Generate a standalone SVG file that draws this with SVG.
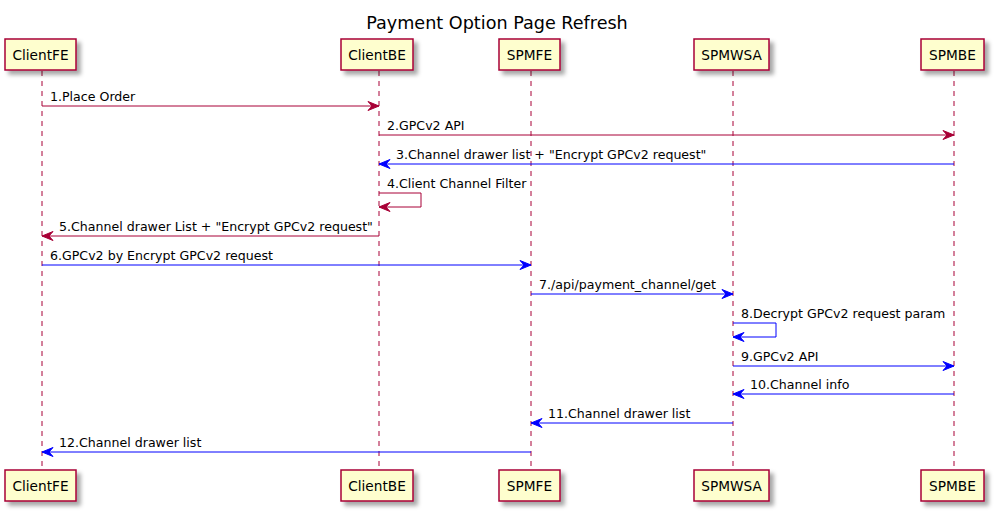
<svg xmlns="http://www.w3.org/2000/svg" width="997" height="513" viewBox="0 0 997 513">
<defs>
<filter id="sh" x="-20%" y="-20%" width="150%" height="160%">
<feDropShadow dx="4" dy="4" stdDeviation="2" flood-color="#000" flood-opacity="0.35"/>
</filter>
<marker id="ar" viewBox="-1 -1 13 11" refX="11" refY="4.5" markerWidth="13" markerHeight="11" markerUnits="userSpaceOnUse" orient="auto"><polygon points="0,0 11,4.5 0,9 4,4.5" fill="#A80036" stroke="#A80036" stroke-width="1"/></marker>
<marker id="ab" viewBox="-1 -1 13 11" refX="11" refY="4.5" markerWidth="13" markerHeight="11" markerUnits="userSpaceOnUse" orient="auto"><polygon points="0,0 11,4.5 0,9 4,4.5" fill="#0000FF" stroke="#0000FF" stroke-width="1"/></marker>
</defs>
<style>
text{font-family:"DejaVu Sans",Verdana,sans-serif;fill:#000}
.t{font-size:17.6px}
.p{font-size:13.7px;text-anchor:middle}
.m{font-size:12.6px}
.box{fill:#FEFECE;stroke:#A80036;stroke-width:1.5;filter:url(#sh)}
.life{stroke:#A80036;stroke-width:1;stroke-dasharray:5,5;fill:none}
.r{stroke:#A80036;stroke-width:1;fill:none;marker-end:url(#ar)}
.b{stroke:#0000FF;stroke-width:1;fill:none;marker-end:url(#ab)}
</style>
<text class="t" x="497" y="29" text-anchor="middle">Payment Option Page Refresh</text>
<g id="lifelines">
<line class="life" x1="42" y1="71" x2="42" y2="470"/>
<line class="life" x1="379" y1="71" x2="379" y2="470"/>
<line class="life" x1="531" y1="71" x2="531" y2="470"/>
<line class="life" x1="733" y1="71" x2="733" y2="470"/>
<line class="life" x1="954" y1="71" x2="954" y2="470"/>
</g>
<g id="ClientFE">
<rect class="box" x="5" y="39" width="71" height="31"/><text class="p" x="40.5" y="60">ClientFE</text>
<rect class="box" x="5" y="470" width="71" height="31"/><text class="p" x="40.5" y="491">ClientFE</text>
</g>
<g id="ClientBE">
<rect class="box" x="341" y="39" width="72" height="31"/><text class="p" x="377" y="60">ClientBE</text>
<rect class="box" x="341" y="470" width="72" height="31"/><text class="p" x="377" y="491">ClientBE</text>
</g>
<g id="SPMFE">
<rect class="box" x="499" y="39" width="61" height="31"/><text class="p" x="529.5" y="60">SPMFE</text>
<rect class="box" x="499" y="470" width="61" height="31"/><text class="p" x="529.5" y="491">SPMFE</text>
</g>
<g id="SPMWSA">
<rect class="box" x="694" y="39" width="75" height="31"/><text class="p" x="731.5" y="60">SPMWSA</text>
<rect class="box" x="694" y="470" width="75" height="31"/><text class="p" x="731.5" y="491">SPMWSA</text>
</g>
<g id="SPMBE">
<rect class="box" x="921" y="39" width="63" height="31"/><text class="p" x="952.5" y="60">SPMBE</text>
<rect class="box" x="921" y="470" width="63" height="31"/><text class="p" x="952.5" y="491">SPMBE</text>
</g>
<g id="connectors">
<line class="r" x1="42" y1="106" x2="379" y2="106"/>
<text class="m" x="50" y="100.5">1.Place Order</text>
<line class="r" x1="379" y1="135" x2="954" y2="135"/>
<text class="m" x="387" y="129.5">2.GPCv2 API</text>
<line class="b" x1="954" y1="164" x2="379" y2="164"/>
<text class="m" x="396" y="158.5">3.Channel drawer list + "Encrypt GPCv2 request"</text>
<polyline class="r" points="379,193 421,193 421,207 379,207"/>
<text class="m" x="387" y="187.5">4.Client Channel Filter</text>
<line class="r" x1="379" y1="236" x2="42" y2="236"/>
<text class="m" x="59" y="230.5">5.Channel drawer List + "Encrypt GPCv2 request"</text>
<line class="b" x1="42" y1="265" x2="531" y2="265"/>
<text class="m" x="50" y="259.5">6.GPCv2 by Encrypt GPCv2 request</text>
<line class="b" x1="531" y1="294" x2="733" y2="294"/>
<text class="m" x="539" y="288.5">7./api/payment_channel/get</text>
<polyline class="b" points="733,323 776,323 776,337 733,337"/>
<text class="m" x="741" y="317.5">8.Decrypt GPCv2 request param</text>
<line class="b" x1="733" y1="366" x2="954" y2="366"/>
<text class="m" x="741" y="360.5">9.GPCv2 API</text>
<line class="b" x1="954" y1="394" x2="733" y2="394"/>
<text class="m" x="750" y="388.5">10.Channel info</text>
<line class="b" x1="733" y1="423" x2="531" y2="423"/>
<text class="m" x="548" y="417.5">11.Channel drawer list</text>
<line class="b" x1="531" y1="452" x2="42" y2="452"/>
<text class="m" x="59" y="446.5">12.Channel drawer list</text>
</g>
</svg>
